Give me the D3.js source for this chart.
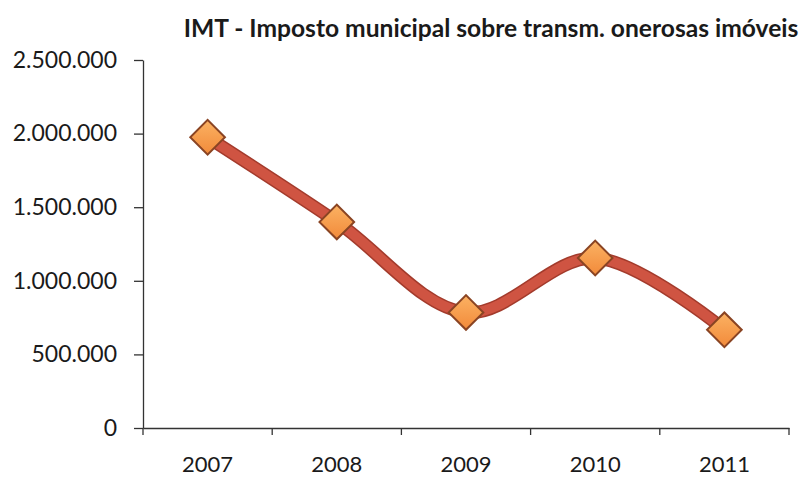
<!DOCTYPE html>
<html>
<head>
<meta charset="utf-8">
<script src="https://cdn.jsdelivr.net/npm/d3@7"></script>
<style>
  body { margin: 0; background: #fff; }
  svg { display: block; }
</style>
</head>
<body>
<div id="chart"></div>
<script>
var chartTitle = "IMT - Imposto municipal sobre transm. onerosas imóveis";
var years = ["2007", "2008", "2009", "2010", "2011"];
var imtValues = [1975000, 1400000, 785000, 1155000, 667000];
var yTicks = [0, 500000, 1000000, 1500000, 2000000, 2500000];

function setChart() {
  var w = 811, h = 478;
  var mLeft = 143, mRight = 789, mTop = 60, mBottom = 428;
  var font = "Lato, 'Open Sans', sans-serif";

  var svg = d3.select("#chart").append("svg")
    .attr("width", w).attr("height", h);

  var data = years.map(function(yr, i) { return { year: yr, value: imtValues[i] }; });

  var x = d3.scaleBand().domain(years).range([mLeft, mRight]).padding(0);
  var y = d3.scaleLinear().domain([0, 2500000]).range([mBottom, mTop]);

  // pt locale: 2.500.000
  var pt = d3.formatLocale({ decimal: ",", thousands: ".", grouping: [3], currency: ["", " €"] });
  var fmt = pt.format(",");

  // title
  svg.append("text")
    .attr("x", 491).attr("y", 37)
    .attr("text-anchor", "middle")
    .style("font-family", font)
    .style("font-weight", "bold")
    .style("font-size", "24.6px")
    .style("fill", "#1a1a1a")
    .text(chartTitle);

  // y axis
  var yAxis = svg.append("g")
    .attr("transform", "translate(" + mLeft + ",0)")
    .call(d3.axisLeft(y).tickValues(yTicks).tickFormat(fmt).tickSize(9).tickSizeOuter(0).tickPadding(17));
  yAxis.select(".domain").attr("stroke", "#333").attr("stroke-width", 1.3);
  yAxis.selectAll(".tick line").attr("stroke", "#333").attr("stroke-width", 1.3);
  yAxis.selectAll("text")
    .style("font-family", font)
    .style("font-size", "23px")
    .style("fill", "#1a1a1a");

  // x axis (labels at band centres, ticks on band edges)
  var xAxis = svg.append("g")
    .attr("transform", "translate(0," + mBottom + ")")
    .call(d3.axisBottom(x).tickSize(0).tickPadding(28));
  xAxis.select(".domain").attr("stroke", "#333").attr("stroke-width", 1.3);
  xAxis.selectAll("text")
    .style("font-family", font)
    .style("font-size", "22px")
    .style("fill", "#1a1a1a");

  var edges = years.map(function(d) { return x(d); }).concat([x.range()[1]]);
  xAxis.selectAll("line.edge")
    .data(edges)
    .enter()
    .append("line")
    .attr("class", "edge")
    .attr("x1", function(d) { return d; })
    .attr("x2", function(d) { return d; })
    .attr("y1", 0).attr("y2", 7)
    .attr("stroke", "#333").attr("stroke-width", 1.3);

  // smoothed line
  var line = d3.line()
    .x(function(d) { return x(d.year) + x.bandwidth() / 2; })
    .y(function(d) { return y(d.value); })
    .curve(d3.curveCatmullRom.alpha(0.5));

  svg.append("path")
    .datum(data)
    .attr("d", line)
    .attr("fill", "none")
    .attr("stroke", "#a33b2c")
    .attr("stroke-width", 13)
    .attr("stroke-linejoin", "round");

  svg.append("path")
    .datum(data)
    .attr("d", line)
    .attr("fill", "none")
    .attr("stroke", "#cf5442")
    .attr("stroke-width", 10)
    .attr("stroke-linejoin", "round");

  // diamond markers
  var defs = svg.append("defs");
  var grad = defs.append("linearGradient").attr("id", "mk")
    .attr("x1", "0").attr("y1", "0").attr("x2", "1").attr("y2", "1");
  grad.append("stop").attr("offset", "0%").attr("stop-color", "#fbb263");
  grad.append("stop").attr("offset", "100%").attr("stop-color", "#f28a3a");

  svg.selectAll("path.marker")
    .data(data)
    .enter()
    .append("path")
    .attr("class", "marker")
    .attr("d", d3.symbol().type(d3.symbolSquare).size(600))
    .attr("transform", function(d) {
      return "translate(" + (x(d.year) + x.bandwidth() / 2) + "," + y(d.value) + ") rotate(45)";
    })
    .attr("fill", "url(#mk)")
    .attr("stroke", "#8a4423")
    .attr("stroke-width", 2);
}

setChart();
</script>
</body>
</html>
